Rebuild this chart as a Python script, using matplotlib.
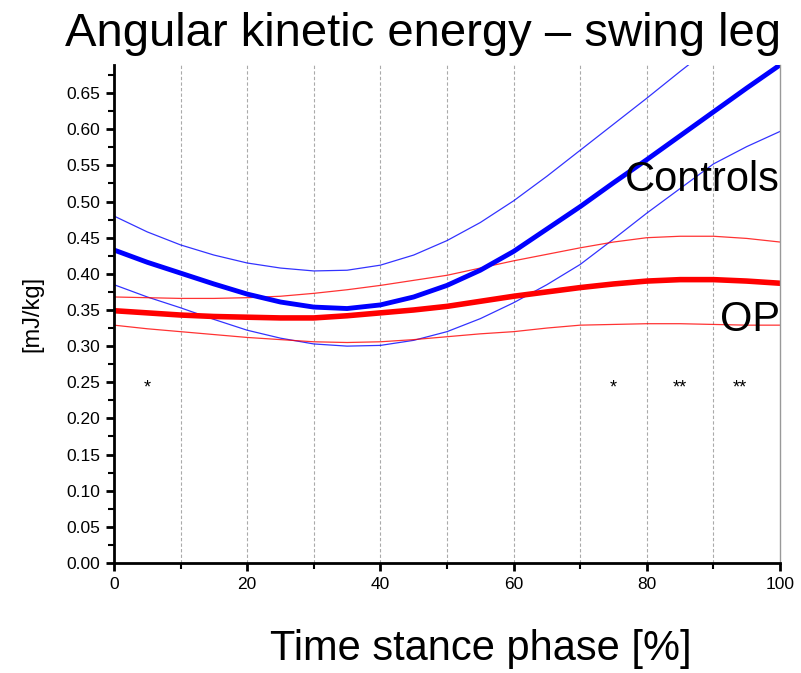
import matplotlib
matplotlib.use("Agg")
import matplotlib.pyplot as plt
from matplotlib.ticker import MultipleLocator

plt.rcParams['font.family'] = ['Liberation Sans', 'DejaVu Sans']

# time stance phase [%]
phase = [0, 5, 10, 15, 20, 25, 30, 35, 40, 45, 50,
         55, 60, 65, 70, 75, 80, 85, 90, 95, 100]

controlsMean = [0.433, 0.416, 0.401, 0.386, 0.372, 0.361, 0.354, 0.352, 0.357, 0.368, 0.384,
                0.405, 0.431, 0.462, 0.493, 0.526, 0.558, 0.591, 0.624, 0.657, 0.689]
controlsUpper = [0.480, 0.458, 0.440, 0.426, 0.415, 0.408, 0.404, 0.405, 0.412, 0.426, 0.446,
                 0.471, 0.501, 0.535, 0.571, 0.607, 0.643, 0.680, 0.716, 0.752, 0.788]
controlsLower = [0.385, 0.368, 0.353, 0.337, 0.322, 0.311, 0.303, 0.300, 0.301, 0.308, 0.320,
                 0.338, 0.360, 0.385, 0.413, 0.448, 0.484, 0.518, 0.552, 0.576, 0.597]

opMean = [0.349, 0.346, 0.343, 0.341, 0.340, 0.339, 0.339, 0.342, 0.346, 0.350, 0.355,
          0.362, 0.369, 0.375, 0.381, 0.386, 0.390, 0.392, 0.392, 0.390, 0.387]
opUpper = [0.368, 0.367, 0.366, 0.366, 0.367, 0.369, 0.373, 0.378, 0.384, 0.391, 0.398,
           0.408, 0.418, 0.427, 0.436, 0.444, 0.450, 0.452, 0.452, 0.449, 0.444]
opLower = [0.329, 0.324, 0.320, 0.316, 0.312, 0.309, 0.306, 0.305, 0.306, 0.309, 0.313,
           0.317, 0.320, 0.325, 0.329, 0.330, 0.331, 0.331, 0.330, 0.329, 0.329]

# significance markers
starX = [5, 75, 85, 94]
starY = [0.242, 0.242, 0.242, 0.242]
starText = ["*", "*", "**", "**"]

fig = plt.figure(figsize=(8.01, 6.73), dpi=100)
ax = fig.add_axes([0.1423, 0.1635, 0.8315, 0.74])

ax.plot(phase, controlsUpper, color="#0000ff", lw=0.9, alpha=0.8)
ax.plot(phase, controlsLower, color="#0000ff", lw=0.9, alpha=0.8)
ax.plot(phase, opUpper, color="#ff0000", lw=0.9, alpha=0.8)
ax.plot(phase, opLower, color="#ff0000", lw=0.9, alpha=0.8)
ax.plot(phase, opMean, color="#ff0000", lw=4)
ax.plot(phase, controlsMean, color="#0000ff", lw=3.5)

for sx, sy, st in zip(starX, starY, starText):
    ax.text(sx, sy, st, ha="center", va="center", fontsize=13)

ax.set_xlim(0, 100)
ax.set_ylim(0, 0.689)
ax.xaxis.set_major_locator(MultipleLocator(20))
ax.xaxis.set_minor_locator(MultipleLocator(10))
ax.yaxis.set_major_locator(MultipleLocator(0.05))
ax.yaxis.set_minor_locator(MultipleLocator(0.025))
ax.yaxis.set_major_formatter(plt.FormatStrFormatter("%.2f"))

for gx in range(10, 100, 10):
    ax.axvline(gx, color="#aaaaaa", lw=0.8, ls=(0, (3, 2)), zorder=0)

ax.spines["top"].set_visible(False)
ax.spines["right"].set_color("#999999")
ax.spines["right"].set_linewidth(1)
ax.spines["left"].set_linewidth(2)
ax.spines["bottom"].set_linewidth(2)
ax.tick_params(which="major", length=6, width=2, labelsize=12.5, colors="black", pad=4)
ax.tick_params(which="minor", length=4, width=1.5)
ax.tick_params(axis="y", which="both", right=False)

ax.set_ylabel("[mJ/kg]", fontsize=17, labelpad=16)
ax.text(100, 0.53, "Controls", ha="right", va="center", fontsize=30)
ax.text(100, 0.336, "OP", ha="right", va="center", fontsize=30)

fig.text(0.528, 0.95, "Angular kinetic energy \u2013 swing leg", ha="center", va="center", fontsize=34)
fig.text(0.6, 0.035, "Time stance phase [%]", ha="center", va="center", fontsize=30)

fig.savefig("out.png", dpi=100)
